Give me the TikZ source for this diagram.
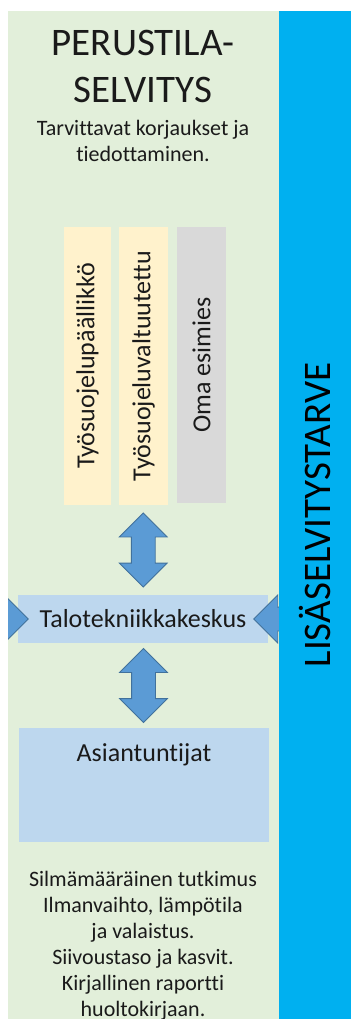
\documentclass[tikz,border=0pt]{standalone}
\usepackage{fontspec}
\setmainfont{Carlito}[Ligatures=NoCommon]
\usetikzlibrary{shapes, arrows, calc}

\definecolor{bggreen}{HTML}{E2EFDA}
\definecolor{barblue}{HTML}{00B0F0}
\definecolor{roleyellow}{HTML}{FFF2CC}
\definecolor{rolegrey}{HTML}{D9D9D9}
\definecolor{boxblue}{HTML}{BDD7EE}
\definecolor{arrowfill}{HTML}{5B9BD5}
\definecolor{arrowline}{HTML}{41719C}
\definecolor{ink}{HTML}{1A1A1A}

\tikzstyle{heading} = [align=center, inner sep=0, text=ink, font=\fontsize{39}{47}\selectfont]
\tikzstyle{note} = [align=center, inner sep=0, text=ink, font=\fontsize{22}{26}\selectfont]
\tikzstyle{role} = [rectangle, rotate=90, minimum width=278, minimum height=47, inner sep=0, text=ink, font=\fontsize{26}{30}\selectfont]
\tikzstyle{hub} = [rectangle, minimum width=250, minimum height=48, inner sep=0, fill=boxblue, text=ink, font=\fontsize{26}{30}\selectfont]
\tikzstyle{expert} = [rectangle, minimum width=250, minimum height=114, inner sep=0, fill=boxblue]
\tikzstyle{link} = [double arrow, double arrow head extend=12, inner sep=11.5, minimum height=74, shape border rotate=90, fill=arrowfill, draw=arrowline, line width=0.8]
\tikzstyle{pointer} = [single arrow, single arrow head extend=12, inner sep=11.5, minimum height=60, fill=arrowfill, draw=arrowline, line width=0.8]

\begin{document}
\begin{tikzpicture}[x=1pt, y=-1pt]
\useasboundingbox (0,0) rectangle (351,1019);

\node (panel) [rectangle, fill=bggreen, minimum width=271, minimum height=1008, inner sep=0] at (143.5,515) {};

\node (title) [heading, anchor=north] at (143,30) {PERUSTILA-\\SELVITYS};
\node (tasks) [note, anchor=north] at (143,120) {Tarvittavat korjaukset ja\\tiedottaminen.};

\node (tpp) [role, fill=roleyellow] at (87.5,366) {Työsuojelupäällikkö};
\node (tsv) [role, fill=roleyellow, minimum height=49] at (143.5,366) {Työsuojeluvaltuutettu};
\node (boss) [role, fill=rolegrey, minimum height=49, minimum width=276] at (201.5,365) {Oma esimies};

\node (hub) [hub] at (143,619) {Talotekniikkakeskus};
\node (asi) [expert] at (144,785) {};
\node (asitext) [anchor=base, text=ink, font=\fontsize{26}{30}\selectfont] at ($(asi.north)+(0,34)$) {Asiantuntijat};

\node (check) [note, anchor=north] at (143,871) {Silmämääräinen tutkimus\\Ilmanvaihto, lämpötila\\ja valaistus.\\Siivoustaso ja kasvit.\\Kirjallinen raportti\\huoltokirjaan.};

\node (up) [link] at ($(tsv.west)!0.5!(hub.north)$) {};
\node (down) [link] at ($(hub.south)!0.5!(asi.north)$) {};

\begin{scope}
\clip (8,11) rectangle (279,1019);
\node (inleft) [pointer, anchor=tip] at ($(hub.west)+(11,0)$) {};
\node (inright) [pointer, shape border rotate=180, anchor=tip] at ($(hub.east)+(-15,0)$) {};
\end{scope}

\node (bar) [rectangle, rotate=90, minimum width=1008, minimum height=72, inner sep=0, fill=barblue, text=black, font=\fontsize{39}{47}\selectfont] at (315,515) {LISÄSELVITYSTARVE};

\end{tikzpicture}
\end{document}
